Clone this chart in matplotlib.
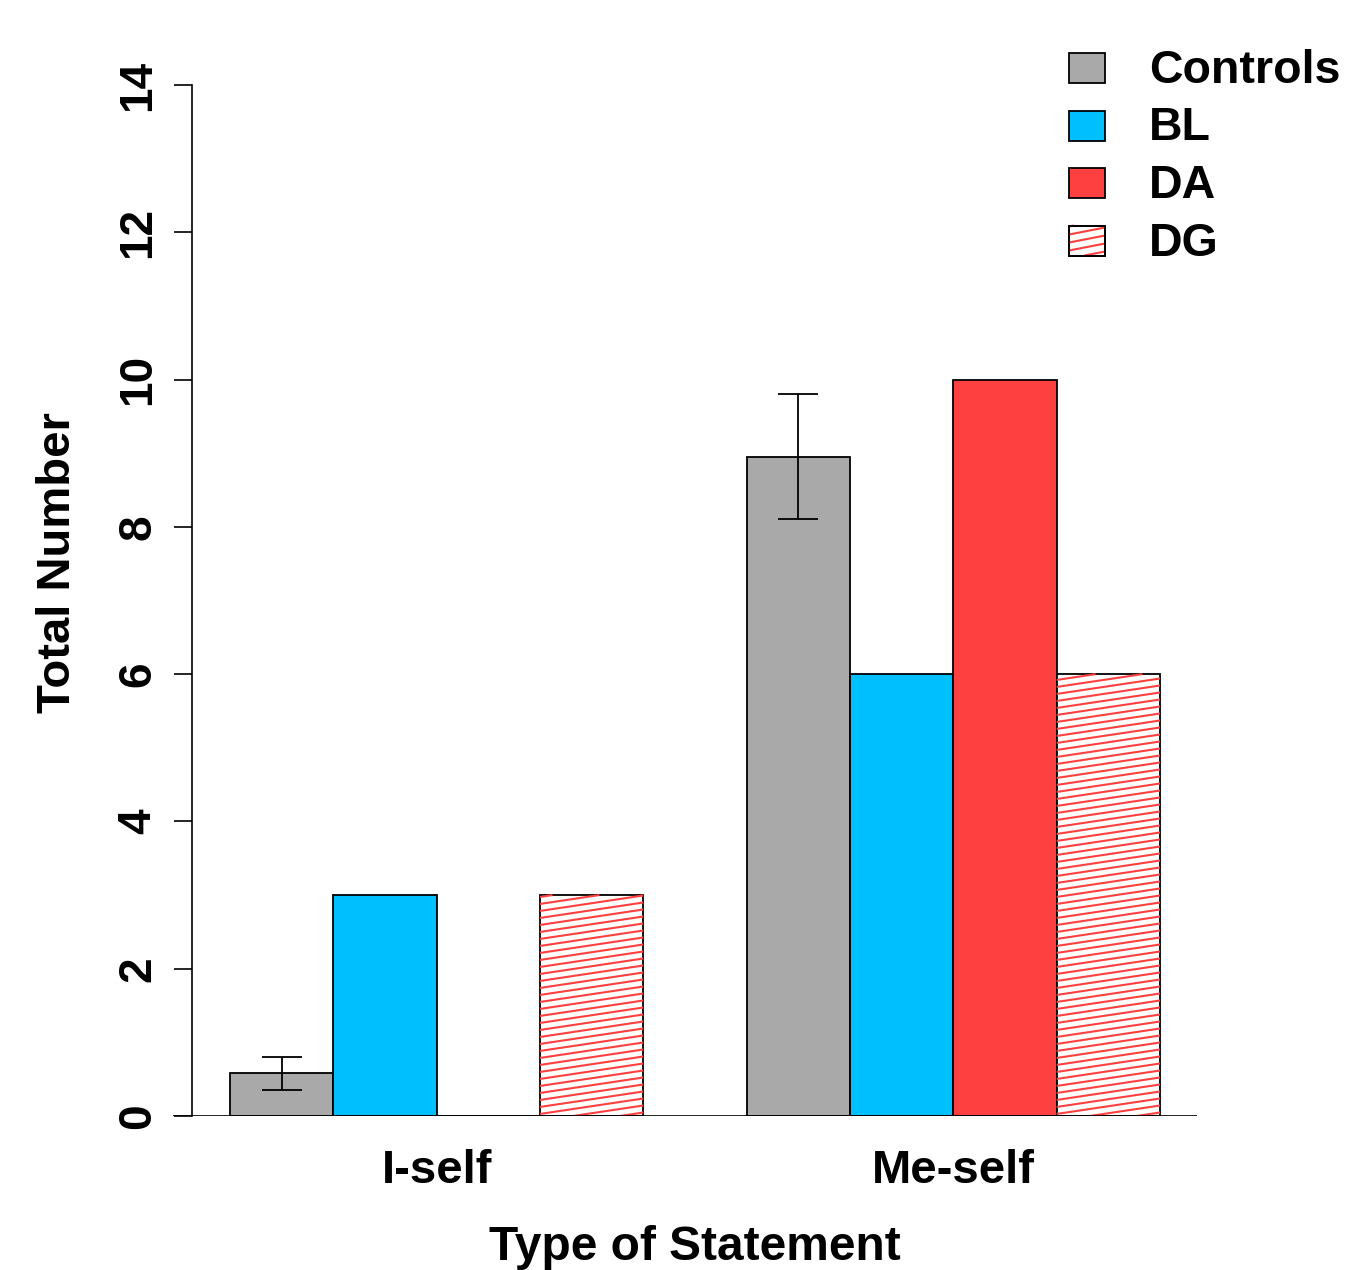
import matplotlib
matplotlib.use("Agg")
import matplotlib.pyplot as plt
import numpy as np
from matplotlib.patches import Rectangle
from matplotlib.lines import Line2D
from matplotlib.transforms import IdentityTransform

# ---- data ----
categories = ["I-self", "Me-self"]
groups = ["Controls", "BL", "DA", "DG"]
controls = [0.58, 8.95]
controls_err_low = [0.35, 8.10]
controls_err_high = [0.80, 9.80]
bl = [3, 6]
da = [0, 10]
dg = [3, 6]
yticks = [0, 2, 4, 6, 8, 10, 12, 14]

colors = {"Controls": "#A9A9A9", "BL": "#00BFFF", "DA": "#FF4040", "DG": "white"}
hatch_color = "#FF4040"

plt.rcParams['font.family'] = ['Liberation Sans', 'DejaVu Sans']
plt.rcParams['font.weight'] = 'bold'

W, H = 1348, 1270
DPI = 100
fig = plt.figure(figsize=(W / DPI, H / DPI), dpi=DPI)

# axes placement (pixels)
axl, axr, axt, axb = 173, 1197, 85, 1116
ax = fig.add_axes([axl / W, 1 - axb / H, (axr - axl) / W, (axb - axt) / H])
ax.set_xlim(0.449, 10.358)
ax.set_ylim(0, 14)

values = [controls, bl, da, dg]
bar_w = 1.0
dg_patches = []
for gi in range(len(categories)):
    start = 1 + gi * 5
    for si, name in enumerate(groups):
        x0 = start + si
        v = values[si][gi]
        r = Rectangle((x0, 0), bar_w, v, facecolor=colors[name], edgecolor='black',
                      linewidth=1.3, zorder=3)
        ax.add_patch(r)
        if name == "DG":
            dg_patches.append(r)
        if name == "Controls":
            xc = x0 + bar_w / 2
            ax.errorbar([xc], [v],
                        yerr=[[v - controls_err_low[gi]], [controls_err_high[gi] - v]],
                        fmt='none', ecolor='black', elinewidth=1.3, capsize=14.5,
                        capthick=1.3, zorder=5)

# spines
for s in ['top', 'right', 'bottom']:
    ax.spines[s].set_visible(False)
ax.spines['left'].set_position(('data', 0.635))
ax.spines['left'].set_bounds(0, 14)
ax.spines['left'].set_linewidth(1.2)
ax.axhline(0, color='black', linewidth=1.2, zorder=4)

ax.set_yticks(yticks)
ax.set_yticklabels([str(t) for t in yticks], rotation=90, va='center',
                   fontsize=33, fontweight='bold')
ax.tick_params(axis='y', length=13, width=1.2, pad=10)
ax.set_xticks([3, 8])
ax.set_xticklabels(categories, fontsize=34, fontweight='bold')
ax.tick_params(axis='x', length=0, pad=24)

fig.text(695 / W, 1 - 1260 / H, "Type of Statement", ha='center', va='baseline',
         fontsize=34.5, fontweight='bold')
fig.text(70 / W, 1 - 563 / H, "Total Number", ha='center', va='baseline',
         rotation=90, rotation_mode='anchor', fontsize=34, fontweight='bold')


# hatching (display-space lines, analytically clipped to each bar)
def hatch_rect(target, bb, angle_deg, spacing, lw):
    x0, y0, x1, y1 = bb.x0, bb.y0, bb.x1, bb.y1
    slope = np.tan(np.deg2rad(angle_deg))
    dy = spacing
    width = x1 - x0
    c = y0 - slope * width + dy / 2
    while c < y1:
        xa = max(x0, x0 + (y0 - c) / slope)
        xb = min(x1, x0 + (y1 - c) / slope)
        if xb > xa:
            ya = c + slope * (xa - x0)
            yb = c + slope * (xb - x0)
            ln = Line2D([xa, xb], [ya, yb], transform=IdentityTransform(),
                        color=hatch_color, linewidth=lw, zorder=3.5,
                        solid_capstyle='butt')
            target.add_artist(ln)
        c += dy


fig.canvas.draw()
for p in dg_patches:
    hatch_rect(ax, p.get_window_extent(), 8.5, 7.0, 1.5)

# legend (manual)
leg_ax = fig.add_axes([0, 0, 1, 1])
leg_ax.set_xlim(0, W)
leg_ax.set_ylim(H, 0)
leg_ax.axis('off')
leg_ax.patch.set_alpha(0)
leg_dg = None
for i, name in enumerate(groups):
    ytop = 53 + i * 57.5
    r = Rectangle((1069, ytop), 36, 30, facecolor=colors[name], edgecolor='black',
                  linewidth=1.3, zorder=3)
    leg_ax.add_patch(r)
    leg_ax.text(1149, ytop + 30, name, ha='left', va='baseline', fontsize=33.5,
                fontweight='bold')
    if name == "DG":
        leg_dg = r
        r2 = Rectangle((1069, ytop), 36, 30, facecolor='none', edgecolor='black',
                       linewidth=1.3, zorder=4)
        leg_ax.add_patch(r2)

fig.canvas.draw()
hatch_rect(leg_ax, leg_dg.get_window_extent(), 11, 8.0, 1.5)

fig.savefig("out.png", dpi=DPI)
